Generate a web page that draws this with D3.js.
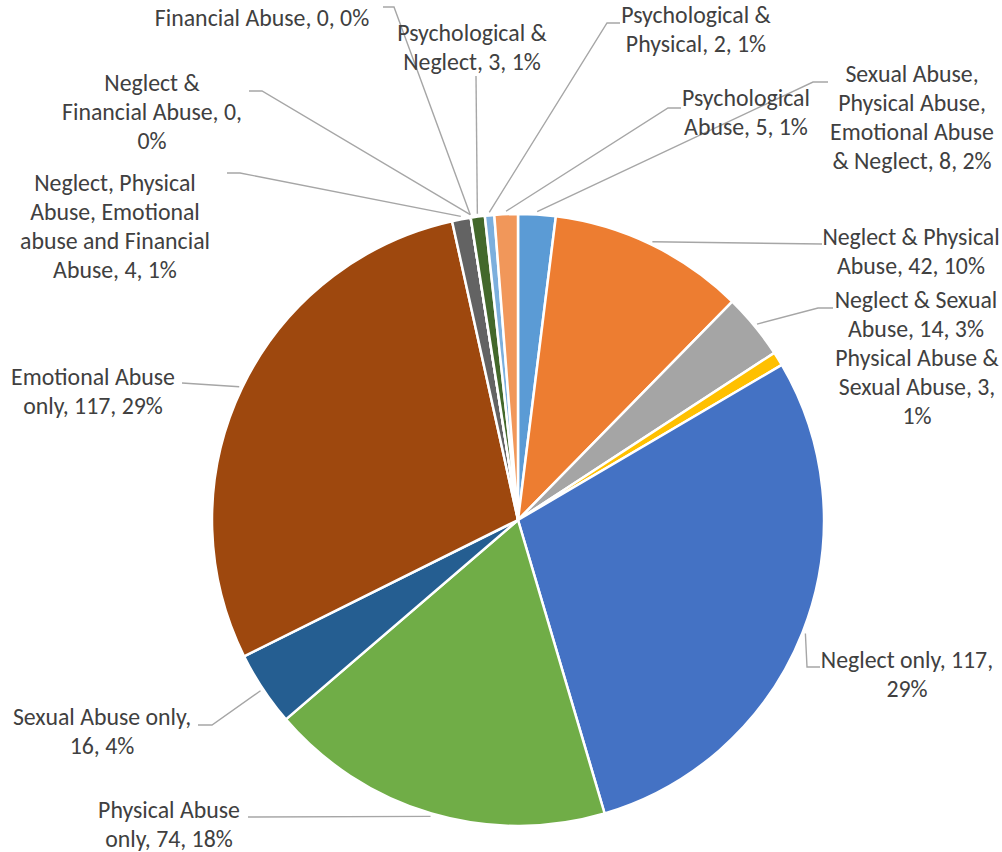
<!DOCTYPE html>
<html>
<head>
<meta charset="utf-8">
<script src="https://cdn.jsdelivr.net/npm/d3@7"></script>
<style>
  body { margin: 0; background: #fff; }
  svg { display: block; }
</style>
</head>
<body>
<svg id="chart" width="1002" height="852"></svg>
<script>
// slices in clockwise order starting at 12 o'clock
var categories = [
  "Sexual Abuse, Physical Abuse, Emotional Abuse & Neglect",
  "Neglect & Physical Abuse",
  "Neglect & Sexual Abuse",
  "Physical Abuse & Sexual Abuse",
  "Neglect only",
  "Physical Abuse only",
  "Sexual Abuse only",
  "Emotional Abuse only",
  "Neglect, Physical Abuse, Emotional abuse and Financial Abuse",
  "Neglect & Financial Abuse",
  "Financial Abuse",
  "Psychological & Neglect",
  "Psychological & Physical",
  "Psychological Abuse"
];
var values = [8, 42, 14, 3, 117, 74, 16, 117, 4, 0, 0, 3, 2, 5];
var pctLabels = ["2%", "10%", "3%", "1%", "29%", "18%", "4%", "29%", "1%", "0%", "0%", "1%", "1%", "1%"];

var colors = ["#5B9BD5", "#ED7D31", "#A5A5A5", "#FFC000", "#4472C4", "#70AD47", "#255E91",
              "#9E480E", "#636363", "#997300", "#264478", "#43682B", "#7CAFDD", "#F1975A"];

// label placement: block centre x, first line centre y, words per line, leader knee points
var labelLayout = [
  {x: 912, y: 74,  words: [2, 2, 2, 4], leader: [[828, 82], [813, 82]]},
  {x: 911, y: 237, words: [3, 3],       leader: [[822, 244]]},
  {x: 916, y: 300, words: [3, 3],       leader: [[833, 308], [818, 308]]},
  {x: 917, y: 358, words: [3, 3, 1],    leader: null},
  {x: 907, y: 660, words: [3, 1],       leader: [[820, 667], [807, 667]]},
  {x: 169, y: 810, words: [2, 3],       leader: [[248, 817]]},
  {x: 102, y: 717, words: [3, 2],       leader: [[198, 725], [212, 725]]},
  {x: 93,  y: 377, words: [2, 3],       leader: [[182, 383]]},
  {x: 115, y: 183, words: [2, 2, 3, 3], leader: [[227, 173], [240, 173]]},
  {x: 152, y: 83,  words: [2, 3, 1],    leader: [[249, 91], [262, 91]]},
  {x: 262, y: 18,  words: [4],          leader: [[383, 7], [394, 7]]},
  {x: 472, y: 33,  words: [2, 3],       leader: [[476, 76]]},
  {x: 696, y: 15,  words: [2, 3],       leader: [[620, 23], [607, 23]]},
  {x: 746, y: 98,  words: [1, 3],       leader: [[681, 108], [668, 108]]}
];

var cx = 518, cy = 520, radius = 306;
var lineGap = 29;
var fontFamily = "Carlito, Calibri, Lato, sans-serif";

var svg = d3.select("#chart");

// pick a font size so the text runs as wide as the reference
var probe = svg.append("text").attr("font-family", fontFamily).attr("font-size", 100).text("Abuse, 42, 10%");
var fontSize = Math.min(24, 100 * 148 / probe.node().getComputedTextLength());
probe.remove();

var pie = d3.pie().sort(null).value(d => d);
var arcs = pie(values);
var arc = d3.arc().innerRadius(0).outerRadius(radius);
var edge = d3.arc().innerRadius(radius + 3).outerRadius(radius + 3);

var g = svg.append("g").attr("transform", `translate(${cx},${cy})`);

g.selectAll("path.slice")
  .data(arcs)
  .enter()
  .append("path")
  .attr("class", "slice")
  .attr("d", arc)
  .attr("fill", (d, i) => colors[i])
  .attr("stroke", "#fff")
  .attr("stroke-width", 2.5)
  .attr("stroke-linejoin", "round");

// leader lines
var line = d3.line();
arcs.forEach(function(d, i) {
  var lay = labelLayout[i];
  if (!lay.leader) return;
  var c = edge.centroid(d);
  var pts = lay.leader.concat([[cx + c[0], cy + c[1]]]);
  svg.append("path")
    .attr("d", line(pts))
    .attr("fill", "none")
    .attr("stroke", "#A6A6A6")
    .attr("stroke-width", 1.4);
});

// data labels: "name, value, pct"
categories.forEach(function(name, i) {
  var lay = labelLayout[i];
  var words = (name + ", " + values[i] + ", " + pctLabels[i]).split(" ");
  var lines = [], k = 0;
  lay.words.forEach(function(n) {
    lines.push(words.slice(k, k + n).join(" "));
    k += n;
  });
  var t = svg.append("text")
    .attr("font-family", fontFamily)
    .attr("font-size", fontSize)
    .attr("fill", "#404040")
    .attr("text-anchor", "middle");
  lines.forEach(function(s, j) {
    t.append("tspan")
      .attr("x", lay.x)
      .attr("y", lay.y + j * lineGap)
      .attr("dy", "0.35em")
      .text(s);
  });
});
</script>
</body>
</html>
